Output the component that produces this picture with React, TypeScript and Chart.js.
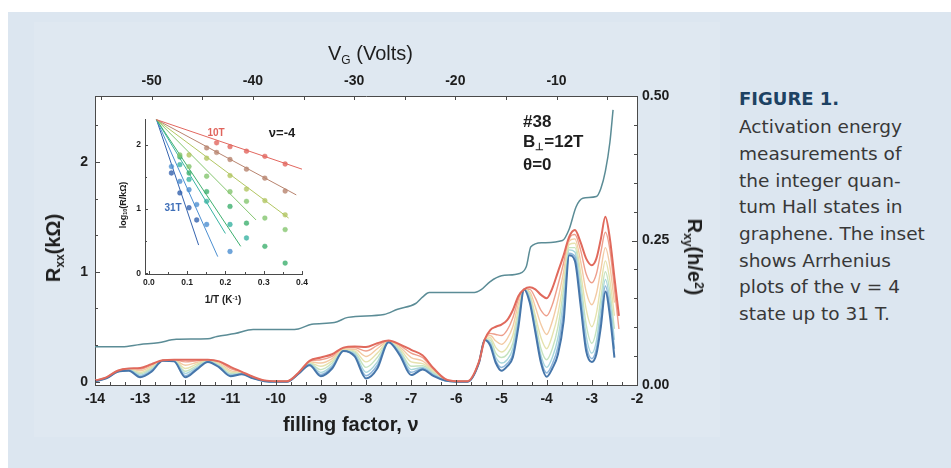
import React, { useEffect, useRef } from "react";
import { Chart, registerables } from "chart.js";

Chart.register(...registerables);

// ---------------- DATA ----------------
// filling factor grid for the Rxx traces
const NU = [
  -14, -13.75, -13.5, -13.25, -13, -12.75, -12.5, -12.25, -12, -11.75,
  -11.5, -11.25, -11, -10.75, -10.5, -10.25, -10, -9.75, -9.5, -9.25,
  -9, -8.75, -8.5, -8.25, -8, -7.75, -7.5, -7.25, -7, -6.75,
  -6.5, -6.25, -6, -5.75, -5.5, -5.375, -5.25, -5.125, -5, -4.875,
  -4.75, -4.625, -4.5, -4.375, -4.25, -4.125, -4, -3.875, -3.75, -3.625,
  -3.5, -3.375, -3.25, -3.125, -3, -2.9, -2.8, -2.7, -2.6, -2.5, -2.4,
];

// Rxx (kOhm), highest temperature (red) to lowest temperature (blue)
const RXX_T1 = [
  0.01, 0.04, 0.1, 0.12, 0.125, 0.16, 0.195, 0.2, 0.2, 0.2,
  0.2, 0.185, 0.135, 0.09, 0.045, 0.012, 0.005, 0.005, 0.08, 0.19,
  0.22, 0.25, 0.31, 0.32, 0.315, 0.35, 0.375, 0.34, 0.29, 0.24,
  0.12, 0.025, 0.005, 0.005, 0.18, 0.38, 0.47, 0.5, 0.52, 0.56,
  0.65, 0.78, 0.84, 0.86, 0.84, 0.79, 0.76, 0.85, 1.0, 1.15,
  1.32, 1.38, 1.27, 1.12, 1.06, 1.12, 1.3, 1.5, 1.3, 0.95, 0.6,
];
const RXX_T2 = [
  0.01, 0.04, 0.1, 0.118, 0.115, 0.15, 0.195, 0.2, 0.18, 0.19,
  0.198, 0.18, 0.12, 0.086, 0.042, 0.011, 0.004, 0.004, 0.078, 0.185,
  0.2, 0.23, 0.3, 0.31, 0.28, 0.33, 0.372, 0.33, 0.26, 0.22,
  0.11, 0.022, 0.004, 0.004, 0.18, 0.38, 0.44, 0.43, 0.42, 0.47,
  0.58, 0.75, 0.84, 0.84, 0.76, 0.65, 0.6, 0.7, 0.88, 1.08,
  1.3, 1.34, 1.2, 0.98, 0.9, 0.98, 1.18, 1.36, 1.2, 0.85, 0.48,
];
const RXX_T3 = [
  0.008, 0.038, 0.098, 0.115, 0.1, 0.14, 0.193, 0.198, 0.15, 0.175,
  0.195, 0.17, 0.1, 0.082, 0.04, 0.01, 0.003, 0.003, 0.076, 0.18,
  0.17, 0.21, 0.295, 0.295, 0.23, 0.3, 0.368, 0.315, 0.22, 0.19,
  0.1, 0.02, 0.003, 0.003, 0.178, 0.38, 0.42, 0.37, 0.34, 0.39,
  0.5, 0.71, 0.84, 0.82, 0.68, 0.52, 0.43, 0.55, 0.75, 1.0,
  1.28, 1.3, 1.1, 0.82, 0.7, 0.8, 1.02, 1.22, 1.05, 0.72, null,
];
const RXX_T4 = [
  0.006, 0.036, 0.096, 0.112, 0.085, 0.13, 0.192, 0.196, 0.12, 0.16,
  0.19, 0.16, 0.088, 0.078, 0.038, 0.009, 0.002, 0.002, 0.074, 0.172,
  0.14, 0.19, 0.29, 0.28, 0.18, 0.26, 0.365, 0.3, 0.18, 0.165,
  0.09, 0.017, 0.002, 0.002, 0.176, 0.38, 0.4, 0.31, 0.27, 0.31,
  0.42, 0.66, 0.84, 0.8, 0.6, 0.4, 0.3, 0.42, 0.62, 0.92,
  1.25, 1.26, 1.0, 0.66, 0.5, 0.62, 0.88, 1.1, 0.92, 0.6, null,
];
const RXX_T5 = [
  0.005, 0.034, 0.094, 0.11, 0.072, 0.12, 0.19, 0.194, 0.095, 0.145,
  0.188, 0.15, 0.075, 0.075, 0.035, 0.008, 0.002, 0.002, 0.072, 0.165,
  0.11, 0.17, 0.285, 0.27, 0.13, 0.22, 0.362, 0.285, 0.14, 0.145,
  0.08, 0.015, 0.002, 0.002, 0.174, 0.38, 0.38, 0.26, 0.22, 0.25,
  0.35, 0.62, 0.84, 0.78, 0.55, 0.3, 0.2, 0.3, 0.5, 0.84,
  1.22, 1.22, 0.92, 0.52, 0.35, 0.47, 0.76, 1.0, 0.82, 0.48, null,
];
const RXX_T6 = [
  0.004, 0.032, 0.092, 0.107, 0.06, 0.11, 0.19, 0.19, 0.075, 0.13,
  0.185, 0.142, 0.065, 0.072, 0.033, 0.007, 0.001, 0.001, 0.07, 0.16,
  0.085, 0.15, 0.28, 0.255, 0.085, 0.18, 0.36, 0.27, 0.11, 0.13,
  0.07, 0.012, 0.001, 0.001, 0.172, 0.38, 0.36, 0.22, 0.17, 0.2,
  0.3, 0.58, 0.84, 0.76, 0.5, 0.24, 0.13, 0.22, 0.4, 0.75,
  1.2, 1.18, 0.84, 0.42, 0.26, 0.37, 0.67, 0.93, 0.74, 0.38, null,
];
const RXX_T7 = [
  0.003, 0.03, 0.09, 0.104, 0.05, 0.1, 0.19, 0.188, 0.055, 0.12,
  0.182, 0.136, 0.057, 0.07, 0.031, 0.006, 0, 0, 0.07, 0.155,
  0.065, 0.135, 0.28, 0.24, 0.055, 0.15, 0.36, 0.255, 0.085, 0.12,
  0.06, 0.01, 0, 0, 0.17, 0.38, 0.345, 0.19, 0.13, 0.165,
  0.25, 0.54, 0.84, 0.74, 0.47, 0.2, 0.08, 0.16, 0.32, 0.65,
  1.17, 1.14, 0.77, 0.34, 0.21, 0.3, 0.58, 0.87, 0.67, 0.3, null,
];
const RXX_T8 = [
  0.002, 0.03, 0.09, 0.1, 0.04, 0.09, 0.19, 0.185, 0.04, 0.11,
  0.18, 0.13, 0.05, 0.068, 0.03, 0.005, 0, 0, 0.07, 0.15,
  0.05, 0.12, 0.28, 0.23, 0.03, 0.12, 0.36, 0.24, 0.06, 0.11,
  0.05, 0.01, 0, 0, 0.17, 0.38, 0.33, 0.17, 0.1, 0.14,
  0.22, 0.5, 0.84, 0.72, 0.45, 0.17, 0.045, 0.12, 0.25, 0.55,
  1.15, 1.1, 0.7, 0.28, 0.18, 0.25, 0.5, 0.82, 0.6, 0.22, null,
];

// Hall resistance Rxy (h/e^2)
const RXY_NU = [
  -14, -13.4, -13.0, -12.6, -12.2, -11.5, -11.3, -10.9, -10.5, -9.7,
  -9.5, -9.2, -8.7, -8.4, -7.6, -7.3, -6.9, -6.75, -6.6, -5.6,
  -5.45, -5.25, -5.0, -4.6, -4.45, -4.35, -4.1, -3.65, -3.5, -3.35,
  -3.2, -2.9, -2.8, -2.7, -2.6, -2.53,
];
const RXY = [
  0.066, 0.066, 0.07, 0.073, 0.079, 0.08, 0.084, 0.089, 0.096, 0.096,
  0.097, 0.105, 0.108, 0.117, 0.122, 0.131, 0.141, 0.152, 0.16, 0.16,
  0.165, 0.179, 0.189, 0.193, 0.205, 0.239, 0.246, 0.25, 0.27, 0.308,
  0.323, 0.326, 0.34, 0.37, 0.42, 0.476,
];

// tick labels
const NU_TICKS = [-14, -13, -12, -11, -10, -9, -8, -7, -6, -5, -4, -3, -2];
const VG_TICKS = [-50, -40, -30, -20, -10];
const RXX_TICKS = [0, 1, 2];
const RXY_TICKS = [0, 0.25, 0.5];

// inset: Arrhenius plot, log10(R) vs 1/T
const INV_T = [0.059, 0.081, 0.105, 0.125, 0.151, 0.177, 0.212, 0.255, 0.303, 0.356];
const LOGR_A = [null, null, null, null, null, 2.03, 1.97, 1.9, 1.82, 1.7];
const LOGR_B = [null, null, null, null, 1.95, 1.88, 1.77, 1.62, 1.48, 1.28];
const LOGR_C = [null, null, 1.84, null, 1.79, null, 1.52, 1.31, 1.13, 0.91];
const LOGR_D = [null, 1.84, 1.66, null, 1.51, null, 1.27, 1.12, 0.86, 0.68];
const LOGR_E = [null, 1.81, 1.56, null, 1.27, null, 1.04, 0.78, 0.42, 0.16];
const LOGR_F = [null, 1.69, 1.46, null, 1.12, null, 0.76, 0.55, null, null];
const LOGR_G = [1.66, 1.43, 1.3, 1.07, 0.76, null, 0.34, null, null, null];
const LOGR_H = [1.56, 1.25, 1.02, 0.83, null, null, null, null, null, null];
const FIT_START = [0.02, 2.39];
const FIT_END_X = [0.4, 0.385, 0.365, 0.28, 0.24, 0.2, 0.18, 0.13];
const FIT_END_Y = [1.62, 1.22, 0.86, 0.83, 0.42, 0.62, 0.26, 0.44];
const INSET_X_TICKS = [0, 0.1, 0.2, 0.3, 0.4];
const INSET_Y_TICKS = [0, 1, 2];

// ---------------- STYLE ----------------
const SANS = "'Liberation Sans', Arial, Helvetica, sans-serif";
const CAPTION_FONT = "'DejaVu Sans', 'Open Sans', sans-serif";
const AXIS = "#4a4a4a";
const RXX_SERIES = [RXX_T1, RXX_T2, RXX_T3, RXX_T4, RXX_T5, RXX_T6, RXX_T7, RXX_T8];
const RXX_COLORS = ["#e0695c", "#ee9f8c", "#f3caa4", "#e6e2ae", "#c6e3bf", "#a8d6dc", "#8db6da", "#4676aa"];
const RXX_WIDTHS = [2, 1.4, 1.4, 1.4, 1.4, 1.4, 1.5, 2];
const RXX_ORDER = [0, 7, 6, 5, 4, 3, 2, 1];
const INSET_SERIES = [LOGR_A, LOGR_B, LOGR_C, LOGR_D, LOGR_E, LOGR_F, LOGR_G, LOGR_H];
const INSET_COLORS = ["#e2675f", "#b8846f", "#b2c662", "#84c56f", "#3fb06f", "#39b3a2", "#4c8fd1", "#3563ae"];

type Edge = "bottom" | "top" | "left" | "right";
type TickSpec = { id: string; edge: Edge; from: number; step: number; count: number; major: number; majorLen: number; minorLen: number };

function innerTicks(specs: TickSpec[]) {
  return {
    id: "innerTicks",
    afterDatasetsDraw(chart: any) {
      const { ctx, chartArea: a } = chart;
      ctx.save();
      ctx.strokeStyle = AXIS;
      ctx.lineWidth = 1;
      ctx.beginPath();
      for (const sp of specs) {
        const s = chart.scales[sp.id];
        for (let i = 0; i < sp.count; i++) {
          const v = sp.from + i * sp.step;
          const r = v / sp.major;
          const len = Math.abs(r - Math.round(r)) < 1e-6 ? sp.majorLen : sp.minorLen;
          const p = Math.round(s.getPixelForValue(v)) + 0.5;
          if (sp.edge === "bottom") { ctx.moveTo(p, a.bottom); ctx.lineTo(p, a.bottom - len); }
          if (sp.edge === "top") { ctx.moveTo(p, a.top); ctx.lineTo(p, a.top + len); }
          if (sp.edge === "left") { ctx.moveTo(a.left, p); ctx.lineTo(a.left + len, p); }
          if (sp.edge === "right") { ctx.moveTo(a.right, p); ctx.lineTo(a.right - len, p); }
        }
      }
      ctx.stroke();
      ctx.restore();
    },
  };
}

const areaBg = {
  id: "areaBg",
  beforeDraw(chart: any) {
    const { ctx, chartArea: a } = chart;
    ctx.save();
    ctx.fillStyle = "#ffffff";
    ctx.fillRect(a.left, a.top, a.right - a.left, a.bottom - a.top);
    ctx.restore();
  },
};

const fixTicks = (values: number[]) => (s: any) => {
  s.ticks = values.map((v) => ({ value: v }));
};

function axisBase(font: any, padding: number) {
  return {
    type: "linear" as const,
    grid: { display: true, drawOnChartArea: false, drawTicks: false },
    border: { display: true, color: AXIS, width: 1 },
    ticks: { font, color: "#1e1e1e", padding, autoSkip: false, maxRotation: 0 },
  };
}

function mainConfig(): any {
  const font = { family: SANS, size: 14, weight: "bold" };
  const datasets: any[] = RXX_SERIES.map((arr, i) => ({
    type: "line",
    data: NU.map((x, j) => ({ x, y: arr[j] })),
    xAxisID: "x",
    yAxisID: "y",
    borderColor: RXX_COLORS[i],
    borderWidth: RXX_WIDTHS[i],
    pointRadius: 0,
    cubicInterpolationMode: "monotone",
    order: RXX_ORDER[i],
  }));
  datasets.push({
    type: "line",
    data: RXY_NU.map((x, j) => ({ x, y: RXY[j] })),
    xAxisID: "x",
    yAxisID: "y2",
    borderColor: "#5b8c96",
    borderWidth: 1.5,
    pointRadius: 0,
    cubicInterpolationMode: "monotone",
    order: 0,
  });
  const b = axisBase(font, 6);
  return {
    type: "line",
    data: { datasets },
    options: {
      animation: false,
      responsive: false,
      events: [],
      layout: { padding: 0 },
      plugins: { legend: { display: false }, tooltip: { enabled: false }, title: { display: false } },
      scales: {
        x: {
          ...b, position: "bottom", min: -14, max: -2,
          afterFit: (s: any) => { s.height = 83; },
          afterBuildTicks: fixTicks(NU_TICKS),
          ticks: { ...b.ticks, padding: 6, callback: (v: any) => String(v) },
        },
        xTop: {
          ...b, position: "top", min: -55.6, max: -2.05,
          afterFit: (s: any) => { s.height = 96; },
          afterBuildTicks: fixTicks(VG_TICKS),
          ticks: { ...b.ticks, padding: 6, callback: (v: any) => String(v) },
        },
        y: {
          ...b, position: "left", min: -0.03, max: 2.6,
          afterFit: (s: any) => { s.width = 95; },
          afterBuildTicks: fixTicks(RXX_TICKS),
          ticks: { ...b.ticks, padding: 7, callback: (v: any) => String(v) },
        },
        y2: {
          ...b, position: "right", min: 0, max: 0.5,
          afterFit: (s: any) => { s.width = 63; },
          afterBuildTicks: fixTicks(RXY_TICKS),
          ticks: { ...b.ticks, padding: 5, callback: (v: any) => Number(v).toFixed(2) },
        },
      },
    },
    plugins: [
      areaBg,
      innerTicks([
        { id: "x", edge: "bottom", from: -14, step: 1 / 3, count: 37, major: 1, majorLen: 5, minorLen: 3 },
        { id: "xTop", edge: "top", from: -55, step: 5, count: 11, major: 10, majorLen: 4, minorLen: 4 },
        { id: "y", edge: "left", from: 0, step: 1 / 3, count: 8, major: 1, majorLen: 5, minorLen: 3 },
        { id: "y2", edge: "right", from: 0, step: 0.05, count: 11, major: 0.25, majorLen: 5, minorLen: 3 },
      ]),
    ],
  };
}

function insetConfig(): any {
  const font = { family: SANS, size: 8.5, weight: "bold" };
  const datasets: any[] = [];
  INSET_SERIES.forEach((arr, i) => {
    datasets.push({
      type: "line",
      data: [
        { x: FIT_START[0], y: FIT_START[1] },
        { x: FIT_END_X[i], y: FIT_END_Y[i] },
      ],
      borderColor: INSET_COLORS[i],
      borderWidth: 1,
      pointRadius: 0,
    });
    datasets.push({
      type: "line",
      showLine: false,
      data: INV_T.map((x, j) => ({ x, y: arr[j] })).filter((p) => p.y !== null),
      pointRadius: 2.4,
      pointBorderWidth: 0.8,
      pointBackgroundColor: INSET_COLORS[i] + "cc",
      pointBorderColor: INSET_COLORS[i] + "77",
    });
  });
  const b = axisBase(font, 3);
  return {
    type: "line",
    data: { datasets },
    options: {
      animation: false,
      responsive: false,
      events: [],
      layout: { padding: { top: 14, right: 18, left: 0, bottom: 0 } },
      plugins: { legend: { display: false }, tooltip: { enabled: false }, title: { display: false } },
      scales: {
        x: {
          ...b, position: "bottom", min: -0.01, max: 0.4,
          afterFit: (s: any) => { s.height = 41; },
          afterBuildTicks: fixTicks(INSET_X_TICKS),
          ticks: { ...b.ticks, padding: 4, callback: (v: any) => Number(v).toFixed(1) },
        },
        y: {
          ...b, position: "left", min: -0.01, max: 2.4,
          afterFit: (s: any) => { s.width = 40; },
          afterBuildTicks: fixTicks(INSET_Y_TICKS),
          ticks: { ...b.ticks, padding: 4, callback: (v: any) => String(v) },
        },
      },
    },
    plugins: [
      areaBg,
      innerTicks([
        { id: "x", edge: "bottom", from: 0, step: 0.05, count: 9, major: 0.1, majorLen: 3, minorLen: 2 },
        { id: "y", edge: "left", from: 0, step: 0.5, count: 5, major: 1, majorLen: 3, minorLen: 2 },
      ]),
    ],
  };
}

const sub = { fontSize: "0.6em", verticalAlign: "-0.3em", lineHeight: 0 } as const;
const sup = { fontSize: "0.6em", verticalAlign: "0.55em", lineHeight: 0 } as const;

function Centered(props: { x: number; y: number; size: number; bold?: boolean; color?: string; rotate?: number; family?: string; children: any }) {
  const { x, y, size, bold, color, rotate, family, children } = props;
  return (
    <div
      style={{
        position: "absolute",
        left: x,
        top: y,
        transform: `translate(-50%, -50%) rotate(${rotate || 0}deg)`,
        whiteSpace: "nowrap",
        lineHeight: 1,
        fontSize: size,
        fontWeight: bold ? 700 : 400,
        color: color || "#1e1e1e",
        fontFamily: family || SANS,
      }}
    >
      {children}
    </div>
  );
}

function Left(props: { x: number; top: number; size: number; bold?: boolean; color?: string; family?: string; lh?: number; children: any }) {
  const { x, top, size, bold, color, family, lh, children } = props;
  return (
    <div
      style={{
        position: "absolute",
        left: x,
        top,
        whiteSpace: "nowrap",
        lineHeight: `${lh || size}px`,
        fontSize: size,
        fontWeight: bold ? 700 : 400,
        color: color || "#1e1e1e",
        fontFamily: family || SANS,
      }}
    >
      {children}
    </div>
  );
}

const CAPTION_LINES = [
  "Activation energy",
  "measurements of",
  "the integer quan-",
  "tum Hall states in",
  "graphene. The inset",
  "shows Arrhenius",
  "plots of the v = 4",
  "state up to 31 T.",
];

export default function App() {
  const mainRef = useRef<HTMLCanvasElement>(null);
  const insetRef = useRef<HTMLCanvasElement>(null);

  useEffect(() => {
    const main = new Chart(mainRef.current as HTMLCanvasElement, mainConfig());
    const inset = new Chart(insetRef.current as HTMLCanvasElement, insetConfig());
    return () => {
      main.destroy();
      inset.destroy();
    };
  }, []);

  return (
    <div style={{ position: "fixed", left: 0, top: 0, width: 951, height: 468, background: "#ffffff", overflow: "hidden", fontFamily: SANS }}>
      <div style={{ position: "absolute", left: 8, top: 12, right: 0, bottom: 0, background: "#dce6f0" }} />
      <div style={{ position: "absolute", left: 34, top: 22, width: 686, height: 415, background: "#dfe8f1" }} />
      <canvas ref={mainRef} width={700} height={468} style={{ position: "absolute", left: 0, top: 0, width: 700, height: 468 }} />
      <canvas ref={insetRef} width={215} height={210} style={{ position: "absolute", left: 105, top: 105, width: 215, height: 210 }} />

      {/* axis titles */}
      <Left x={328} top={43} size={20}>
        V<span style={sub}>G</span> (Volts)
      </Left>
      <Left x={283} top={414} size={20} bold>
        filling factor, ν
      </Left>
      <Centered x={53} y={248} size={20} bold rotate={-90}>
        R<span style={sub}>xx</span>(kΩ)
      </Centered>
      <Centered x={695} y={257} size={20} bold rotate={90}>
        R<span style={sub}>xy</span>(h/e<span style={sup}>2</span>)
      </Centered>

      {/* sample annotation */}
      <Left x={523} top={113} size={17} bold>#38</Left>
      <Left x={523} top={133} size={17} bold>
        B<span style={sub}>⊥</span>=12T
      </Left>
      <Left x={523} top={156} size={17} bold>θ=0</Left>

      {/* inset annotations */}
      <Centered x={216} y={133} size={10} bold color="#e0645c">10T</Centered>
      <Centered x={173} y={208} size={10} bold color="#3f6fb8">31T</Centered>
      <Centered x={282} y={132} size={13} bold>ν=-4</Centered>
      <Centered x={123} y={205} size={9} bold rotate={-90}>
        log<span style={sub}>10</span>(R/kΩ)
      </Centered>
      <Centered x={223} y={300} size={10} bold>
        1/T (K<span style={sup}>-1</span>)
      </Centered>

      {/* caption */}
      <Left x={739} top={89.8} size={18} bold color="#1d4263" family={CAPTION_FONT}>
        FIGURE 1.
      </Left>
      <div style={{ position: "absolute", left: 739, top: 114.2, fontFamily: CAPTION_FONT, fontSize: 18.5, lineHeight: "26.7px", color: "#383838", whiteSpace: "nowrap" }}>
        {CAPTION_LINES.map((l, i) => (
          <div key={i}>{l}</div>
        ))}
      </div>
    </div>
  );
}
